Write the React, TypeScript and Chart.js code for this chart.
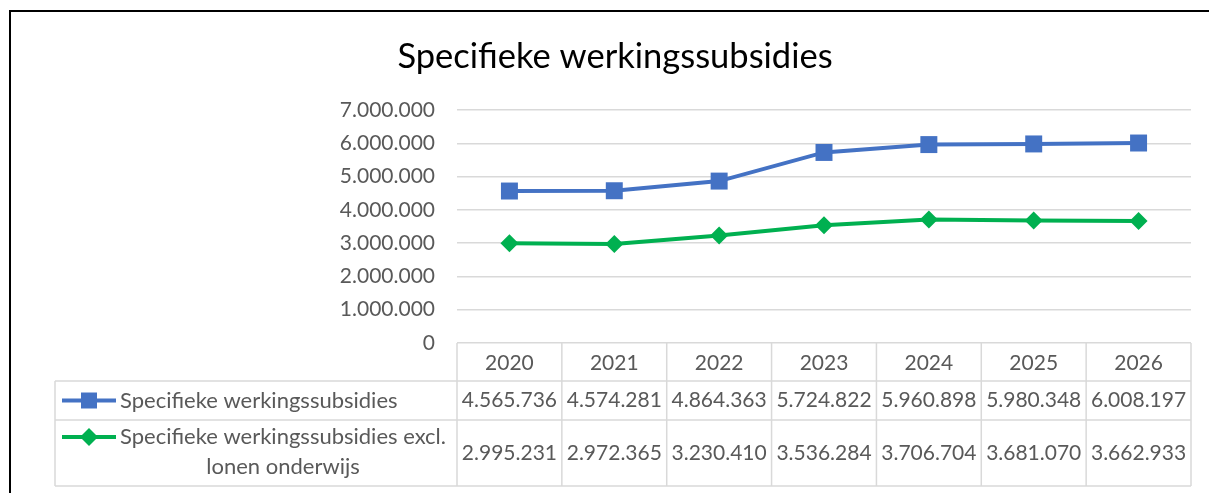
import React, { useEffect, useRef } from "react";
import { Chart, registerables } from "chart.js";

Chart.register(...registerables);

const TITLE = "Specifieke werkingssubsidies";
const years = ["2020", "2021", "2022", "2023", "2024", "2025", "2026"];
const seriesNames = ["Specifieke werkingssubsidies", "Specifieke werkingssubsidies excl. lonen onderwijs"];
const seriesLines = [["Specifieke werkingssubsidies"], ["Specifieke werkingssubsidies excl.", "lonen onderwijs"]];
const subsidies = [4565736, 4574281, 4864363, 5724822, 5960898, 5980348, 6008197];
const subsidiesExcl = [2995231, 2972365, 3230410, 3536284, 3706704, 3681070, 3662933];
const yMin = 0;
const yMax = 7000000;
const yStep = 1000000;

const BLUE = "#4472C4";
const GREEN = "#00B050";
const GRID = "#D9D9D9";
const TXT = "#595959";
const FONT = "Lato";

function fmt(n: number): string {
  const s = Math.round(n).toString();
  return s.replace(/\B(?=(\d{3})+(?!\d))/g, ".");
}

const tablePlugin = {
  id: "excelTable",
  afterDraw(chart: any) {
    const ctx = chart.ctx;
    const area = chart.chartArea;
    const xs = chart.scales.x;
    const n = years.length;
    const colW = (area.right - area.left) / n;
    const top = area.bottom;
    const hdrBottom = top + 38;
    const row1Bottom = hdrBottom + 39;
    const row2Bottom = row1Bottom + 66;
    const legLeft = 55;

    ctx.save();
    // table lines
    ctx.strokeStyle = GRID;
    ctx.lineWidth = 1.5;
    ctx.beginPath();
    [hdrBottom, row1Bottom, row2Bottom].forEach((y) => {
      ctx.moveTo(legLeft, y);
      ctx.lineTo(area.right, y);
    });
    for (let i = 0; i <= n; i++) {
      const x = area.left + i * colW;
      ctx.moveTo(x, top);
      ctx.lineTo(x, row2Bottom);
    }
    ctx.moveTo(legLeft, hdrBottom);
    ctx.lineTo(legLeft, row2Bottom);
    ctx.stroke();

    // header + values
    ctx.fillStyle = TXT;
    ctx.font = `21px ${FONT}`;
    ctx.textAlign = "center";
    ctx.textBaseline = "middle";
    const r1y = (hdrBottom + row1Bottom) / 2;
    const r2y = (row1Bottom + row2Bottom) / 2;
    years.forEach((yr, i) => {
      const cx = xs.getPixelForValue(i);
      ctx.fillText(yr, cx, (top + hdrBottom) / 2 + 1);
      ctx.fillText(fmt(subsidies[i]), cx, r1y);
      ctx.fillText(fmt(subsidiesExcl[i]), cx, r2y);
    });

    // legend keys
    const keys = [
      { color: BLUE, y: r1y, style: "square" },
      { color: GREEN, y: row1Bottom + 17, style: "diamond" },
    ];
    keys.forEach((k, idx) => {
      ctx.strokeStyle = k.color;
      ctx.lineWidth = 4;
      ctx.beginPath();
      ctx.moveTo(62, k.y);
      ctx.lineTo(116, k.y);
      ctx.stroke();
      ctx.fillStyle = k.color;
      ctx.beginPath();
      if (k.style === "square") {
        ctx.rect(89 - 8, k.y - 8, 16, 16);
      } else {
        ctx.moveTo(89, k.y - 9);
        ctx.lineTo(98, k.y);
        ctx.lineTo(89, k.y + 9);
        ctx.lineTo(80, k.y);
        ctx.closePath();
      }
      ctx.fill();

      ctx.fillStyle = TXT;
      ctx.font = `22px ${FONT}`;
      ctx.textBaseline = "middle";
      const lines = seriesLines[idx];
      const w0 = ctx.measureText(lines[0]).width;
      lines.forEach((ln, li) => {
        if (li === 0) {
          ctx.textAlign = "left";
          ctx.fillText(ln, 120, k.y);
        } else {
          ctx.textAlign = "center";
          ctx.fillText(ln, 120 + w0 / 2, k.y + li * 30);
        }
      });
    });

    // title
    ctx.fillStyle = "#000000";
    ctx.font = `34.5px ${FONT}`;
    ctx.textAlign = "center";
    ctx.textBaseline = "middle";
    ctx.fillText(TITLE, 615, 57);

    // outer border (cropped rectangle)
    ctx.strokeStyle = "#000000";
    ctx.lineWidth = 2;
    ctx.beginPath();
    ctx.moveTo(1209, 11);
    ctx.lineTo(10, 11);
    ctx.lineTo(10, 493);
    ctx.stroke();
    ctx.restore();
  },
};

export default function App() {
  const ref = useRef<HTMLCanvasElement>(null);
  useEffect(() => {
    if (!ref.current) return;
    const chart = new Chart(ref.current, {
      type: "line",
      data: {
        labels: years,
        datasets: [
          {
            label: seriesNames[0],
            data: subsidies,
            borderColor: BLUE,
            backgroundColor: BLUE,
            borderWidth: 4,
            pointStyle: "rect",
            pointRadius: 12,
            pointBorderWidth: 0,
            pointBackgroundColor: BLUE,
            tension: 0,
          },
          {
            label: seriesNames[1],
            data: subsidiesExcl,
            borderColor: GREEN,
            backgroundColor: GREEN,
            borderWidth: 4,
            pointStyle: "rectRot",
            pointRadius: 9,
            pointBorderWidth: 0,
            pointBackgroundColor: GREEN,
            tension: 0,
          },
        ],
      },
      options: {
        animation: false,
        responsive: true,
        maintainAspectRatio: false,
        layout: { padding: { top: 110, bottom: 150, left: 0, right: 18 } },
        plugins: {
          legend: { display: false },
          tooltip: { enabled: false },
          title: { display: false },
        },
        scales: {
          x: {
            type: "category",
            display: false,
            offset: true,
          },
          y: {
            min: yMin,
            max: yMax,
            afterFit: (s: any) => {
              s.width = 457;
            },
            border: { display: false },
            grid: { color: GRID, lineWidth: 1.5, drawTicks: false },
            ticks: {
              stepSize: yStep,
              padding: 22,
              color: TXT,
              font: { family: FONT, size: 21 },
              callback: (v: any) => fmt(Number(v)),
            },
          },
        },
      },
      plugins: [tablePlugin],
    });
    return () => chart.destroy();
  }, []);
  return (
    <div style={{ position: "fixed", left: 0, top: 0, width: 1209, height: 493, background: "#fff" }}>
      <canvas ref={ref} />
    </div>
  );
}
